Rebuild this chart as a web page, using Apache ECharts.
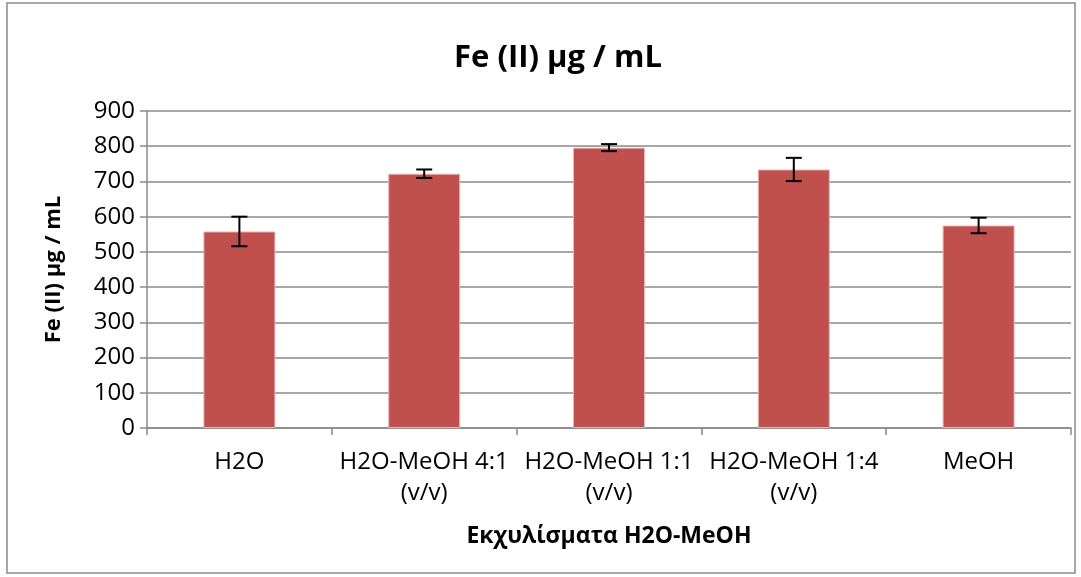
<!DOCTYPE html>
<html>
<head>
<meta charset="utf-8">
<script src="https://cdn.jsdelivr.net/npm/echarts@6/dist/echarts.min.js"></script>
<style>
  html, body { margin: 0; padding: 0; background: #fff; }
  #chart { width: 1081px; height: 577px; }
</style>
</head>
<body>
<div id="chart"></div>
<script>
const categories = ['H2O', 'H2O-MeOH 4:1\n(v/v)', 'H2O-MeOH 1:1\n(v/v)', 'H2O-MeOH 1:4\n(v/v)', 'MeOH'];
const values = [558, 722, 796, 734, 575];
const errors = [42, 12, 10, 33, 22]; // +/- error bar half height
const yTicks = { min: 0, max: 900, interval: 100 };

const font = '"Open Sans", "Noto Sans", sans-serif';
const errData = values.map((v, i) => [i, v - errors[i], v + errors[i]]);

const chart = echarts.init(document.getElementById('chart'));
chart.setOption({
  animation: false,
  backgroundColor: '#fff',
  textStyle: { fontFamily: font },
  title: {
    text: 'Fe (II) μg / mL',
    left: 553,
    textAlign: 'center',
    top: 38,
    textStyle: { fontSize: 31, fontWeight: 'bold', color: '#000', fontFamily: font }
  },
  graphic: [{
    type: 'rect',
    shape: { x: 7, y: 3, width: 1068, height: 570 },
    style: { fill: 'none', stroke: '#8c8c8c', lineWidth: 1.5 },
    silent: true
  }],
  grid: { left: 147, right: 10, top: 111, bottom: 149 },
  xAxis: {
    type: 'category',
    data: categories,
    name: 'Εκχυλίσματα H2O-MeOH',
    nameLocation: 'middle',
    nameGap: 97,
    nameTextStyle: { fontSize: 23, fontWeight: 'bold', color: '#000', fontFamily: font },
    axisLine: { lineStyle: { color: '#8a8a8a', width: 1.5 } },
    axisTick: { show: true, length: 7, interval: 0, lineStyle: { color: '#8a8a8a', width: 1.5 } },
    axisLabel: { fontSize: 24, color: '#000', margin: 19, lineHeight: 31, interval: 0, fontFamily: font }
  },
  yAxis: {
    type: 'value',
    min: yTicks.min,
    max: yTicks.max,
    interval: yTicks.interval,
    name: 'Fe (II) μg / mL',
    nameLocation: 'middle',
    nameGap: 82,
    nameTextStyle: { fontSize: 22, fontWeight: 'bold', color: '#000', fontFamily: font },
    axisLine: { show: true, lineStyle: { color: '#8a8a8a', width: 1.5 } },
    axisTick: { show: true, length: 7, lineStyle: { color: '#8a8a8a', width: 1.5 } },
    axisLabel: { fontSize: 24, color: '#000', margin: 12, fontFamily: font },
    splitLine: { lineStyle: { color: '#8a8a8a', width: 1.5 } }
  },
  series: [
    {
      type: 'bar',
      data: values,
      barWidth: 72,
      itemStyle: { color: '#c0504d', borderColor: '#e8b5b4', borderWidth: 1 },
      z: 2
    },
    {
      type: 'custom',
      data: errData,
      z: 5,
      renderItem: function (params, api) {
        const i = api.value(0);
        const lo = api.coord([i, api.value(1)]);
        const hi = api.coord([i, api.value(2)]);
        const cap = 8;
        const st = { stroke: '#000', lineWidth: 2 };
        return {
          type: 'group',
          children: [
            { type: 'line', shape: { x1: lo[0], y1: lo[1], x2: hi[0], y2: hi[1] }, style: st },
            { type: 'line', shape: { x1: lo[0] - cap, y1: lo[1], x2: lo[0] + cap, y2: lo[1] }, style: st },
            { type: 'line', shape: { x1: hi[0] - cap, y1: hi[1], x2: hi[0] + cap, y2: hi[1] }, style: st }
          ]
        };
      }
    }
  ]
});
</script>
</body>
</html>
